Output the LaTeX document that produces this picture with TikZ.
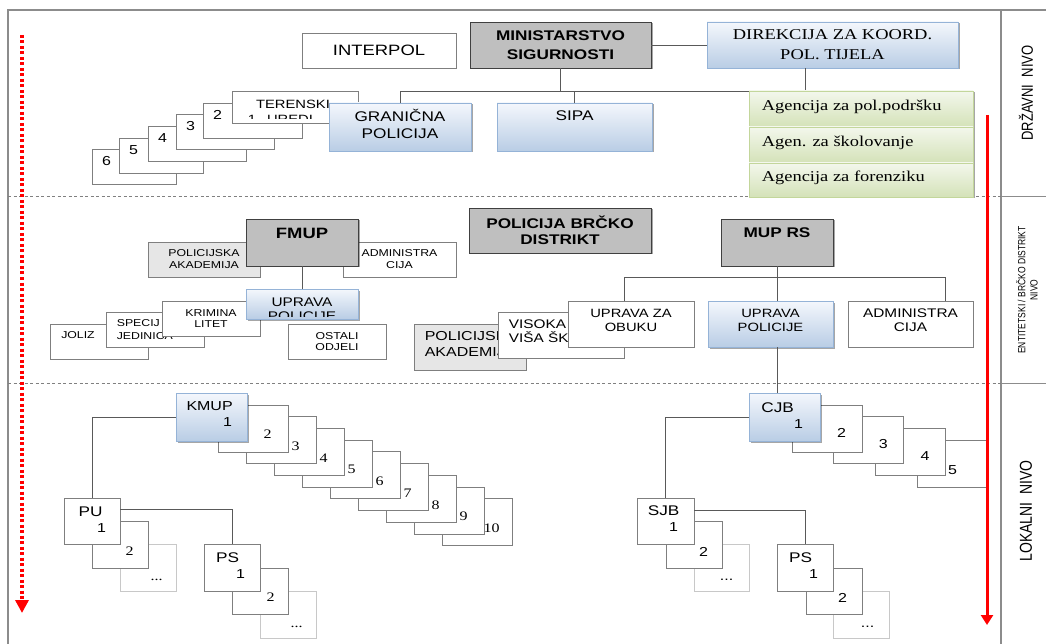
\documentclass[tikz,border=0pt]{standalone}
\usepackage{fontspec}
\setmainfont[FakeStretch=1.23]{Liberation Sans}
\newfontfamily\timesfont[FakeStretch=1.23]{Liberation Serif}
\newfontfamily\plainsans{Liberation Sans}
\usetikzlibrary{shadows, arrows.meta}

\newcommand{\fsz}[2]{\fontsize{#1}{#2}\selectfont}

\definecolor{boxgray}{HTML}{7F7F7F}
\definecolor{faintgray}{HTML}{C8C8C8}
\definecolor{linegray}{HTML}{595959}
\definecolor{darkfill}{HTML}{BFBFBF}
\definecolor{darkline}{HTML}{404040}
\definecolor{lightfill}{HTML}{E6E6E6}
\definecolor{bluetop}{HTML}{F4F7FC}
\definecolor{bluebot}{HTML}{B9CDE5}
\definecolor{blueline}{HTML}{95B3D7}
\definecolor{greentop}{HTML}{F3F7EC}
\definecolor{greenbot}{HTML}{D4E2B8}
\definecolor{greenline}{HTML}{C3D69B}
\definecolor{framegray}{HTML}{8C8C8C}

\tikzset{
  plainbox/.style={draw=boxgray, fill=white, line width=0.8pt, inner sep=0pt, align=center},
  faintbox/.style={plainbox, draw=faintgray},
  lightbox/.style={plainbox, fill=lightfill},
  boxshadow/.style={drop shadow={shadow xshift=1.5pt, shadow yshift=-1.5pt, fill=black, opacity=0.35}},
  darkbox/.style={plainbox, fill=darkfill, draw=darkline, boxshadow},
  bluebox/.style={plainbox, top color=bluetop, bottom color=bluebot, draw=blueline, boxshadow},
  greenbox/.style={plainbox, top color=greentop, bottom color=greenbot, draw=greenline, boxshadow},
  conn/.style={draw=linegray, line width=0.8pt},
  txt/.style={inner sep=0pt, align=center},
  dims/.style 2 args={minimum width=#1pt, minimum height=#2pt},
  stag/.style n args={3}{label={[txt,anchor=center,font=\fsz{14}{16},xshift=#1pt,yshift=-#2pt]north west:#3}},
  ntag/.style n args={3}{label={[txt,anchor=center,font=\fsz{13}{15},xshift=#1pt,yshift=-#2pt]north west:#3}},
  rtag/.style n args={3}{label={[txt,anchor=center,font=\timesfont\fsz{13}{15},xshift=#1pt,yshift=-#2pt]north west:#3}},
  frame/.style={draw=framegray, line width=1.2pt},
  sep/.style={draw=gray, line width=0.9pt, dash pattern=on 3pt off 2.5pt},
  reddots/.style={draw=red, line width=4.5pt, dash pattern=on 3pt off 2.5pt, -{Triangle[width=13pt,length=13pt]}},
  redline/.style={draw=red, line width=3pt, -{Triangle[width=12pt,length=10pt]}},
}

\begin{document}
\begin{tikzpicture}[x=1pt, y=-1pt]
\useasboundingbox (0,0) rectangle (1046,644);

% frame and levels
\draw[frame] (8,660) |- (1060,10);
\draw[frame] (1001,10) -- (1001,660);
\draw[sep] (8,196) -- (1001,196) (8,383) -- (1001,383);
\draw[frame, line width=0.8pt] (1001,196) -- (1060,196) (1001,383) -- (1060,383);

% state level
\node[plainbox, dims={154}{35}, font=\fsz{15}{18}] (interpol) at (379,50.5) {INTERPOL};
\node[darkbox, dims={181}{46}, font=\bfseries\fsz{14}{19}] (ms) at (560.5,45) {MINISTARSTVO\\SIGURNOSTI};
\node[bluebox, dims={251}{46}, font=\timesfont\fsz{15}{20}] (direk) at (832.5,45) {DIREKCIJA ZA KOORD.\\POL. TIJELA};

\node[plainbox, dims={84}{35}, ntag={15}{12}{6}] (ter6) at (134,166.5) {};
\node[plainbox, dims={84}{35}, ntag={15}{12}{5}] (ter5) at (161,155.5) {};
\node[plainbox, dims={98}{35}, ntag={15}{12}{4}] (ter4) at (197,143.5) {};
\node[plainbox, dims={98}{35}, ntag={15}{12}{3}] (ter3) at (225,131.5) {};
\node[plainbox, dims={99}{35}, ntag={15}{12}{2}] (ter2) at (252.5,120.5) {};
\node[plainbox, dims={126}{32}] (ter1) at (295,107) {};
\begin{scope}
  \clip (ter1.north west) rectangle ([yshift=4.5pt]ter1.south east);
  \node[txt, font=\fsz{12}{15}] (terenski) at (293,104) {TERENSKI};
  \node[txt, font=\fsz{12}{15}] (terNum) at (252,119.5) {1};
  \node[txt, font=\fsz{12}{15}] (uredi) at (290,119.5) {UREDI};
\end{scope}

\node[bluebox, dims={142}{48}, label={[txt,font=\fsz{14}{17},yshift=3.5pt]center:GRANIČNA\\POLICIJA}] (granicna) at (400,127) {};
\node[bluebox, dims={155}{48}, label={[txt,font=\fsz{14}{17},yshift=11pt]center:SIPA}] (sipa) at (574.5,127) {};

\draw[conn] (ms) -- (direk);
\draw[conn] (granicna.north) |- (749,91) coordinate (busEnd);
\draw[conn] (ms.south) -- (ms.south |- busEnd);
\draw[conn] (sipa.north) -- (sipa.north |- busEnd);
\coordinate (dk) at (805,91);
\draw[conn] (dk) -- (dk |- direk.south);

\node[greenbox, dims={224}{36}, label={[txt,anchor=west,font=\timesfont\fsz{15}{18},xshift=13pt,yshift=2pt]west:Agencija za pol.podršku}] (ag1) at (861,109) {};
\node[greenbox, dims={224}{36}, label={[txt,anchor=west,font=\timesfont\fsz{15}{18},xshift=13pt,yshift=2pt]west:Agen. za školovanje}] (ag2) at (861,145) {};
\node[greenbox, dims={224}{34}, label={[txt,anchor=west,font=\timesfont\fsz{15}{18},xshift=13pt,yshift=2pt]west:Agencija za forenziku}] (ag3) at (861,180) {};

% entity level, FMUP
\node[plainbox, dims={98}{35}, label={[txt,font=\fsz{10}{12},xshift=-21pt,yshift=6.5pt]center:JOLIZ}] (joliz) at (99,341.5) {};
\node[plainbox, dims={98}{35}, label={[txt,align=left,anchor=west,font=\fsz{10}{13},xshift=11pt]west:SPECIJ\\JEDINICA}] (spec) at (155,329.5) {};
\node[plainbox, dims={98}{35}, font=\fsz{10}{11.5}] (krim) at (211,318.5) {KRIMINA\\LITET};
\node[lightbox, dims={112}{35}, font=\fsz{10}{12}] (akad1) at (204,259.5) {POLICIJSKA\\AKADEMIJA};
\node[plainbox, dims={113}{35}, font=\fsz{10}{12}] (adm1) at (399.5,259.5) {ADMINISTRA\\CIJA};
\node[darkbox, dims={112}{47}, label={[txt,font=\bfseries\fsz{15}{17},yshift=9.5pt]center:FMUP}] (fmup) at (302,242.5) {};
\node[bluebox, dims={112}{30}] (up1) at (302,304) {};
\begin{scope}
  \clip (up1.north west) rectangle ([yshift=3pt]up1.south east);
  \node[txt, font=\fsz{12.5}{14.5}] (up1text) at (302,309.5) {UPRAVA\\POLICIJE};
\end{scope}
\node[plainbox, dims={98}{35}, font=\fsz{10}{11.5}] (ostali) at (337,341.5) {OSTALI\\ODJELI};
\draw[conn] (fmup.south) -- (up1.north);

% entity level, Brcko and MUP RS
\node[darkbox, dims={182}{45}, font=\bfseries\fsz{14}{16}] (brcko) at (560,230.5) {POLICIJA BRČKO\\DISTRIKT};
\node[lightbox, dims={112}{46}, label={[txt,align=left,anchor=west,font=\fsz{13}{16},xshift=11pt,yshift=3pt]west:POLICIJSK\\AKADEMIJ}] (akad2) at (470,347) {};
\node[plainbox, dims={126}{46}, label={[txt,align=left,anchor=west,font=\fsz{12.5}{14},xshift=11pt,yshift=4pt]west:VISOKA\\VIŠA ŠK}] (visoka) at (561,335) {};
\node[plainbox, dims={126}{46}, label={[txt,font=\fsz{12}{14},yshift=4pt]center:UPRAVA ZA\\OBUKU}] (obuka) at (631,324) {};
\node[bluebox, dims={125}{46}, label={[txt,font=\fsz{12}{14},yshift=4pt]center:UPRAVA\\POLICIJE}] (upRS) at (770.5,324) {};
\node[plainbox, dims={125}{46}, label={[txt,font=\fsz{12.5}{14},yshift=4pt]center:ADMINISTRA\\CIJA}] (admRS) at (910.5,324) {};
\node[darkbox, dims={112}{47}, label={[txt,font=\bfseries\fsz{14}{16},yshift=9.5pt]center:MUP RS}] (muprs) at (777,242.5) {};

\draw[conn] (muprs.south) -- (muprs.south |- upRS.north);
\coordinate (rsL) at (624,277);
\coordinate (rsR) at (945,277);
\draw[conn] (rsL |- obuka.north) |- (rsR) -- (rsR |- admRS.north);

% local level, KMUP
\foreach \i in {10,9,...,2}
  \node[plainbox, dims={70}{47}, rtag={50}{30}{\i}] (k\i) at ({253+28*(\i-2)},{428.5+11.7*(\i-2)}) {};
\node[bluebox, dims={71}{48}, label={[txt,anchor=center,font=\fsz{13}{15},xshift=34pt,yshift=-13pt]north west:KMUP}, ntag={52}{29}{1}] (kmup) at (211.5,417) {};

\node[faintbox, dims={56}{47}, rtag={37}{36}{...}] (pu3) at (148,567.5) {};
\node[plainbox, dims={56}{47}, rtag={38}{31}{2}] (pu2) at (120,544.5) {};
\node[plainbox, dims={56}{46}, stag={27}{14}{PU}, ntag={38}{30}{1}] (pu) at (92,521) {};
\node[faintbox, dims={56}{47}, rtag={37}{36}{...}] (ps3) at (288,614.5) {};
\node[plainbox, dims={56}{46}, rtag={39}{30}{2}] (ps2) at (260,591) {};
\node[plainbox, dims={56}{47}, stag={24}{14}{PS}, ntag={37}{30}{1}] (ps1) at (232,567.5) {};
\draw[conn] (kmup.west) -| (pu.north);
\draw[conn] ([yshift=12pt]pu.east) -| (ps1.north);

% local level, CJB
\node[plainbox, dims={70}{47}, ntag={36}{30}{5}] (c5) at (952,463.6) {};
\foreach \i in {4,3,2}
  \node[plainbox, dims={70}{47}, ntag={50}{28}{\i}] (c\i) at ({827+41.7*(\i-2)},{428.5+11.7*(\i-2)}) {};
\node[bluebox, dims={71}{48}, stag={29}{15}{CJB}, ntag={50}{31}{1}] (cjb) at (784.5,417) {};
\draw[conn] (muprs.south |- upRS.south) -- (muprs.south |- cjb.north);

\node[faintbox, dims={55}{47}, ntag={33}{36}{...}] (sjb3) at (721.5,567.5) {};
\node[plainbox, dims={56}{47}, ntag={38}{31}{2}] (sjb2) at (694,544.5) {};
\node[plainbox, dims={57}{46}, stag={27}{13}{SJB}, ntag={37}{29}{1}] (sjb) at (665.5,521) {};
\node[faintbox, dims={56}{47}, ntag={35}{36}{...}] (ps3r) at (861,614.5) {};
\node[plainbox, dims={56}{46}, ntag={37}{30}{2}] (ps2r) at (834,591) {};
\node[plainbox, dims={56}{47}, stag={24}{14}{PS}, ntag={37}{30}{1}] (ps1r) at (805,567.5) {};
\draw[conn] (cjb.west) -| (sjb.north);
\draw[conn] ([yshift=11pt]sjb.east) -| (ps1r.north);

% arrows
\coordinate (lt) at (22,35);
\coordinate (lb) at (22,613);
\draw[reddots] (lt) -- (lb);
\coordinate (rt) at (987,115);
\coordinate (rb) at (987,625);
\draw[redline] (rt) -- (rb);

% level names
\node[txt, xscale=1.23, rotate=90, font=\plainsans\fsz{13}{15}] (lvl1) at (1026,93) {DRŽAVNI\ \ NIVO};
\node[txt, xscale=1.23, rotate=90, font=\plainsans\fsz{8.5}{10}] (lvl2) at (1027,290) {ENTITETSKI / BRČKO DISTRIKT\\NIVO};
\node[txt, xscale=1.23, rotate=90, font=\plainsans\fsz{14}{16}] (lvl3) at (1026,511) {LOKALNI\ \ NIVO};
\end{tikzpicture}
\end{document}
